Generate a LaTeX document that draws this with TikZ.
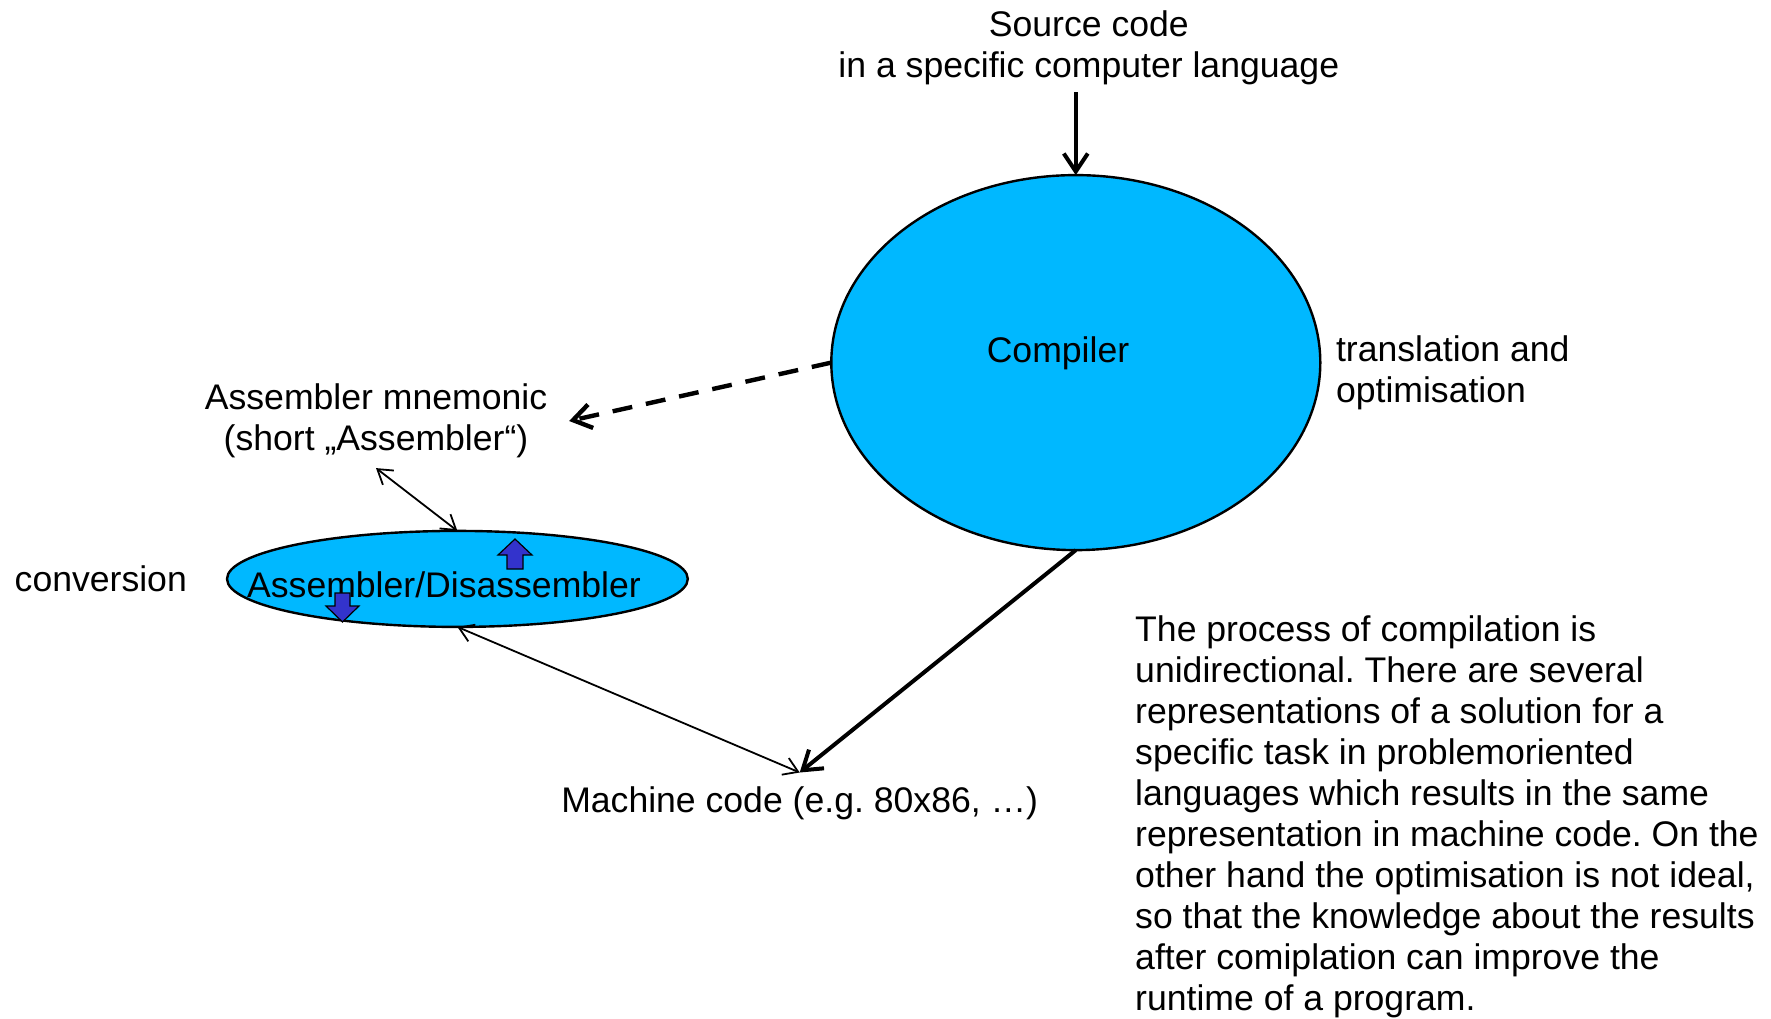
\documentclass[tikz,border=0pt]{standalone}
\usepackage{fontspec}
\setmainfont{Liberation Sans}
\usetikzlibrary{shapes.geometric,arrows.meta}
\definecolor{ellblue}{RGB}{0,184,255}
\definecolor{blkblue}{RGB}{51,51,204}
\frenchspacing
\tikzset{
  lbl/.style={font=\fontsize{17.8}{20.5}\selectfont, inner sep=0pt, outer sep=0pt},
  blob/.style={ellipse, draw, fill=ellblue, line width=1.2pt, inner sep=0pt, outer sep=0pt},
  thickarr/.style={line width=2pt, -{Straight Barb[length=9pt,width=12pt]}},
  dasharr/.style={line width=2.2pt, dash pattern=on 10pt off 7pt, -{Straight Barb[length=9pt,width=12pt]}},
  thinarr/.style={line width=0.9pt, {Straight Barb[length=7pt,width=9pt]}-{Straight Barb[length=7pt,width=9pt]}},
  blockarr/.style={fill=blkblue, draw=black, line width=0.6pt},
}
\begin{document}
\begin{tikzpicture}[x=0.5pt,y=-0.5pt]
\useasboundingbox (0,0) rectangle (1771,1018);
% ellipses
\node[blob, minimum width=244.5pt, minimum height=187.5pt] (compiler) at (1075.8,362.6) {};
\node[blob, minimum width=230.4pt, minimum height=48pt] (asmblob) at (457.4,578.9) {};
% texts
\node[lbl, align=center, inner ysep=4pt] (src) at (1088.8,47.4) {Source code\\in a specific computer language};
\node[lbl] (comptext) at (1058,353.4) {Compiler};
\node[lbl, align=left, anchor=west] (transl) at (1336,372.9) {translation and\\optimisation};
\node[lbl, align=center, inner xsep=11pt, inner ysep=5pt] (mnem) at (376,421) {Assembler mnemonic\\(short „Assembler“)};
\node[lbl, anchor=west] (conv) at (14.7,578.4) {conversion};
\node[lbl] (asmtext) at (444,585) {Assembler/Disassembler};
\node[lbl, inner ysep=7pt] (machine) at (799.7,803.1) {Machine code (e.g. 80x86, …)};
\node[lbl, align=left, anchor=north west] (para) at (1135.2,615.3) {The process of compilation is\\
unidirectional. There are several\\
representations of a solution for a\\
specific task in problemoriented\\
languages which results in the same\\
representation in machine code. On the\\
other hand the optimisation is not ideal,\\
so that the knowledge about the results\\
after comiplation can improve the\\
runtime of a program.};
% block arrows
\filldraw[blockarr] (515,539) -- (532,555) -- (523,555) -- (523,569) -- (507,569) -- (507,555) -- (498,555) -- cycle;
\filldraw[blockarr] (342.5,622) -- (359,606) -- (350,606) -- (350,593) -- (335,593) -- (335,606) -- (326,606) -- cycle;
% connectors
\draw[thickarr] (src.south -| compiler.north) -- (compiler.north);
\draw[dasharr] (compiler.west) -- (mnem.east);
\draw[thinarr] (mnem.south) -- (asmblob.north);
\draw[thinarr] (asmblob.south) -- (machine.north);
\draw[thickarr] (compiler.south) -- (machine.north);
\end{tikzpicture}
\end{document}
